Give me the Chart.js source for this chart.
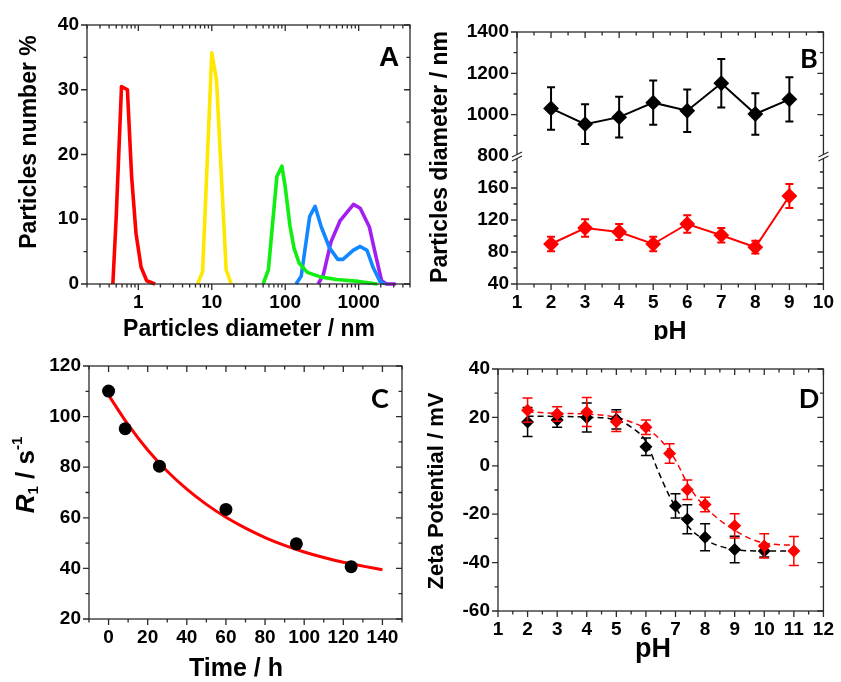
<!DOCTYPE html>
<html>
<head>
<meta charset="utf-8">
<script src="https://cdn.jsdelivr.net/npm/chart.js@4.4.0/dist/chart.umd.min.js"></script>
<style>
  body { margin: 0; background: #fff; }
  #wrap { position: relative; width: 841px; height: 682px; }
  canvas { position: absolute; }
</style>
</head>
<body>
<div id="wrap">
  <canvas id="chartA" width="420" height="340" style="left:0;top:0"></canvas>
  <canvas id="chartB" width="421" height="340" style="left:420px;top:0"></canvas>
  <canvas id="chartC" width="420" height="342" style="left:0;top:340px"></canvas>
  <canvas id="chartD" width="421" height="342" style="left:420px;top:340px"></canvas>
</div>
<script>
// ---- panel A : size distributions (diameter nm, number %)
const redDiam = [0.45, 0.5, 0.59, 0.71, 0.81, 0.93, 1.09, 1.3, 1.69];
const redNum = [0, 10.4, 30.5, 30, 16.6, 7.8, 2.6, 0.5, 0];
const yellowDiam = [6.4, 7.5, 10, 11.6, 15.7, 18.4];
const yellowNum = [0, 1.9, 35.7, 31.5, 2.2, 0];
const greenDiam = [50, 59, 77, 90, 100, 116, 132, 155, 200, 300, 500, 1000, 1800];
const greenNum = [0, 2.2, 16.6, 18.2, 15, 9, 5.5, 3.2, 1.8, 1.1, 0.7, 0.4, 0];
const blueDiam = [140, 165, 215, 255, 310, 400, 520, 610, 840, 1050, 1300, 1580, 1950, 2300];
const blueNum = [0, 1.2, 10.4, 12, 8.8, 5.6, 3.8, 3.8, 5.2, 5.8, 5.2, 2.5, 0.4, 0];
const purpleDiam = [280, 330, 420, 560, 850, 1050, 1400, 1700, 2050, 2400, 3200];
const purpleNum = [0, 1.4, 6.5, 9.8, 12.3, 11.7, 8.8, 4.5, 0.5, 0, 0];

// ---- panel B : diameter vs pH
const bPH = [2, 3, 4, 5, 6, 7, 8, 9];
const bLarge = [1030, 954, 988, 1058, 1019, 1152, 1003, 1074];
const bLargeErr = [103, 96, 99, 107, 103, 117, 100, 107];
const bSmall = [90, 110, 105, 90, 115, 101, 86, 150];
const bSmallErr = [9, 11, 10, 9, 11, 9, 8, 15];

// ---- panel C : R1 vs time
const cTime = [0, 8.5, 26, 60, 96, 124];
const cR1 = [110.1, 95.2, 80.4, 63.3, 49.7, 40.7];
const cFitTime = [0, 10, 20, 30, 40, 50, 60, 70, 80, 90, 100, 110, 120, 130, 140];
const cFitR1 = [108.5, 96.8, 86.8, 78.4, 71.3, 65.3, 60.2, 55.9, 52.2, 49.1, 46.5, 44.3, 42.4, 40.9, 39.5];

// ---- panel D : zeta potential vs pH
const dRedPH = [2, 3, 4, 5, 6, 6.8, 7.4, 8, 9, 10, 11];
const dRedZeta = [23, 21.4, 22.2, 18.2, 15.9, 5.1, -9.9, -16, -24.8, -33.1, -35.2];
const dRedErr = [5, 3, 6, 4, 3, 4, 4, 3, 5, 5, 6];
const dBlackPH = [2, 3, 4, 5, 6, 7, 7.4, 8, 9, 10];
const dBlackZeta = [18.1, 18.9, 20, 19.2, 7.9, -16.6, -22.1, -29.5, -34.6, -35.2];
const dBlackErr = [6, 3, 6, 4, 3.6, 5, 6, 5.6, 5.5, 2.5];
const dRedFitPH = [2, 3, 4, 5, 5.5, 6, 6.5, 7, 7.4, 7.7, 8, 8.5, 9, 9.5, 10, 10.5, 11];
const dRedFitZeta = [22.3, 21.7, 21.4, 20, 18.1, 15.4, 10.6, 2.3, -7.3, -12.8, -17, -22.5, -26.6, -30, -31.9, -32.6, -32.8];
const dBlackFitPH = [2, 3, 4, 5, 5.5, 6, 6.4, 6.75, 7, 7.3, 7.6, 8, 8.4, 9, 10, 11];
const dBlackFitZeta = [20.5, 20.4, 20.1, 19, 16, 10, -1.8, -11.4, -17, -23, -27.3, -30.5, -32.8, -34.6, -35.2, -35.2];

// ---- tick labels
const aXMajor = [1, 10, 100, 1000];
const aYMajor = [0, 10, 20, 30, 40];
const bXMajor = [1, 2, 3, 4, 5, 6, 7, 8, 9, 10];
const bTopMajor = [800, 1000, 1200, 1400];
const bBotMajor = [40, 80, 120, 160];
const cXMajor = [0, 20, 40, 60, 80, 100, 120, 140];
const cYMajor = [20, 40, 60, 80, 100, 120];
const dXMajor = [1, 2, 3, 4, 5, 6, 7, 8, 9, 10, 11, 12];
const dYMajor = [-60, -40, -20, 0, 20, 40];

const FONT = '"Liberation Sans", Arial, sans-serif';
const tickFont = { family: FONT, size: 19, weight: 'bold' };
const titleFont = 'bold 23px ' + FONT;
const INK = '#2a2a2a';

function minors(first, last, step) {
  const out = [];
  for (let v = first; v <= last + 1e-9; v += step) out.push(Math.round(v * 1000) / 1000);
  return out;
}
const aXMinor = [];
[0.1, 1, 10, 100, 1000].forEach(d => {
  for (let k = 2; k <= 9; k++) {
    const v = +(k * d).toPrecision(3);
    if (v >= 0.2 && v <= 5000) aXMinor.push(v);
  }
});

function pts(xs, ys) {
  return xs.map((x, i) => ({ x: x, y: ys[i] }));
}

function axis(type, min, max, majors, size, extra) {
  const horiz = extra && extra.position === 'bottom';
  return Object.assign({
    type: type, min: min, max: max,
    grid: { display: false, drawTicks: false },
    border: { display: false },
    ticks: { font: tickFont, color: '#000', padding: horiz ? 7 : 8, autoSkip: false, maxRotation: 0, callback: v => String(v) },
    afterBuildTicks: s => { s.ticks = majors.map(v => ({ value: v })); },
    afterFit: s => { if (horiz) s.height = size; else s.width = size; }
  }, extra);
}

function drawText(ctx, t) {
  const parts = t.parts || [{ text: t.text, font: t.font }];
  ctx.save();
  ctx.translate(t.x, t.y);
  if (t.rot) ctx.rotate(-Math.PI / 2);
  ctx.fillStyle = '#000';
  ctx.textBaseline = 'middle';
  ctx.textAlign = 'left';
  let w = 0;
  parts.forEach(p => { ctx.font = p.font; p.w = ctx.measureText(p.text).width; w += p.w; });
  let x = -w / 2;
  parts.forEach(p => { ctx.font = p.font; ctx.fillText(p.text, x, p.dy || 0); x += p.w; });
  ctx.restore();
}

// box frame with outward ticks on bottom/left, inward on top/right
function frame(marks, texts, extra) {
  return {
    id: 'frame',
    afterDraw(chart) {
      const { ctx, chartArea: a } = chart;
      ctx.save();
      ctx.strokeStyle = INK;
      ctx.lineWidth = 1.3;
      ctx.strokeRect(a.left, a.top, a.right - a.left, a.bottom - a.top);
      marks.forEach(m => {
        const s = chart.scales[m.id];
        const horiz = s.isHorizontal();
        [[m.major, 6], [m.minor, 3.5]].forEach(([vals, len]) => {
          vals.forEach(v => {
            const p = s.getPixelForValue(v);
            ctx.beginPath();
            if (horiz) {
              ctx.moveTo(p, a.bottom); ctx.lineTo(p, a.bottom + len);
              ctx.moveTo(p, a.top); ctx.lineTo(p, a.top + len);
            } else {
              ctx.moveTo(a.left - len, p); ctx.lineTo(a.left, p);
              ctx.moveTo(a.right, p); ctx.lineTo(a.right - len, p);
            }
            ctx.stroke();
          });
        });
      });
      if (extra) extra(chart);
      texts.forEach(t => drawText(ctx, t));
      ctx.restore();
    }
  };
}

// vertical error bars from dataset.errs
const errorBars = {
  id: 'errorBars',
  afterDatasetDraw(chart, args) {
    const ds = chart.data.datasets[args.index];
    if (!ds.errs) return;
    const meta = args.meta;
    const ctx = chart.ctx;
    ctx.save();
    ctx.strokeStyle = ds.borderColor;
    ctx.lineWidth = ds.errWidth || 1.5;
    const cap = ds.capHalf || 4;
    ds.data.forEach((d, i) => {
      const x = meta.xScale.getPixelForValue(d.x);
      const y1 = meta.yScale.getPixelForValue(d.y + ds.errs[i]);
      const y2 = meta.yScale.getPixelForValue(d.y - ds.errs[i]);
      ctx.beginPath();
      ctx.moveTo(x, y1); ctx.lineTo(x, y2);
      ctx.moveTo(x - cap, y1); ctx.lineTo(x + cap, y1);
      ctx.moveTo(x - cap, y2); ctx.lineTo(x + cap, y2);
      ctx.stroke();
    });
    ctx.restore();
  }
};

const common = {
  responsive: false,
  animation: false,
  events: [],
  plugins: { legend: { display: false }, tooltip: { enabled: false } }
};

function curve(xs, ys, color) {
  return {
    data: pts(xs, ys), showLine: true, borderColor: color, borderWidth: 3.6,
    pointRadius: 0, tension: 0, clip: 4, borderJoinStyle: 'round'
  };
}

// ---------- A
new Chart(document.getElementById('chartA'), {
  type: 'scatter',
  data: {
    datasets: [
      curve(redDiam, redNum, '#ff0000'),
      curve(yellowDiam, yellowNum, '#ffe800'),
      curve(greenDiam, greenNum, '#11ee11'),
      curve(blueDiam, blueNum, '#1188ff'),
      curve(purpleDiam, purpleNum, '#a31ff0')
    ]
  },
  options: Object.assign({}, common, {
    layout: { padding: { top: 25, right: 10, left: 0, bottom: 0 } },
    scales: {
      x: axis('logarithmic', 0.2, 5000, aXMajor, 56, { position: 'bottom' }),
      y: axis('linear', 0, 40, aYMajor, 87, { position: 'left' })
    }
  }),
  plugins: [frame(
    [{ id: 'x', major: aXMajor, minor: aXMinor }, { id: 'y', major: aYMajor, minor: minors(5, 35, 10) }],
    [
      { text: 'Particles number %', font: titleFont, x: 30, y: 142, rot: true },
      { text: 'Particles diameter / nm', font: titleFont, x: 249, y: 330 },
      { text: 'A', font: 'bold 28px ' + FONT, x: 389, y: 58 }
    ]
  )]
});

// ---------- B
function breakMarks(chart) {
  const { ctx, chartArea: a } = chart;
  const y = chart.scales.yTop.bottom;
  [a.left, a.right].forEach(x => {
    ctx.save();
    ctx.strokeStyle = '#fff';
    ctx.lineWidth = 3;
    ctx.beginPath(); ctx.moveTo(x, y - 1); ctx.lineTo(x, y + 2); ctx.stroke();
    ctx.strokeStyle = INK;
    ctx.lineWidth = 1.2;
    ctx.beginPath();
    ctx.moveTo(x - 5, y + 1); ctx.lineTo(x + 5, y - 4);
    ctx.moveTo(x - 5, y + 5); ctx.lineTo(x + 5, y);
    ctx.stroke();
    ctx.restore();
  });
}

new Chart(document.getElementById('chartB'), {
  type: 'scatter',
  data: {
    datasets: [
      { data: pts(bPH, bLarge), errs: bLargeErr, errWidth: 2, capHalf: 4, yAxisID: 'yTop', showLine: true,
        borderColor: '#000', backgroundColor: '#000', borderWidth: 2, pointStyle: 'rectRot', pointRadius: 6.5 },
      { data: pts(bPH, bSmall), errs: bSmallErr, errWidth: 2, capHalf: 4, yAxisID: 'yBot', showLine: true,
        borderColor: '#ff0000', backgroundColor: '#ff0000', borderWidth: 2, pointStyle: 'rectRot', pointRadius: 6.5 }
    ]
  },
  options: Object.assign({}, common, {
    layout: { padding: { top: 32, right: 12, left: 0, bottom: 0 } },
    scales: {
      x: axis('linear', 1, 10, bXMajor, 56, { position: 'bottom' }),
      yBot: axis('linear', 40, 200, bBotMajor, 97, { position: 'left', stack: 'd', stackWeight: 127 }),
      yTop: axis('linear', 800, 1400, bTopMajor, 97, { position: 'left', stack: 'd', stackWeight: 123 })
    }
  }),
  plugins: [errorBars, frame(
    [
      { id: 'x', major: bXMajor, minor: minors(1.5, 9.5, 1) },
      { id: 'yTop', major: bTopMajor.slice(1), minor: minors(900, 1300, 200) },
      { id: 'yBot', major: bBotMajor, minor: minors(60, 180, 40) }
    ],
    [
      { text: 'Particles diameter / nm', font: titleFont, x: 21, y: 157, rot: true },
      { text: 'pH', font: 'bold 25px ' + FONT, x: 250, y: 332 },
      { text: 'B', font: 'bold 27px Lato, ' + FONT, x: 389, y: 59 }
    ],
    breakMarks
  )]
});

// ---------- C
new Chart(document.getElementById('chartC'), {
  type: 'scatter',
  data: {
    datasets: [
      { data: pts(cTime, cR1), backgroundColor: '#000', borderColor: '#000', pointRadius: 6.5, pointBorderWidth: 0 },
      { data: pts(cFitTime, cFitR1), showLine: true, borderColor: '#ff0000', borderWidth: 3, pointRadius: 0,
        cubicInterpolationMode: 'monotone' }
    ]
  },
  options: Object.assign({}, common, {
    layout: { padding: { top: 26, right: 18, left: 0, bottom: 0 } },
    scales: {
      x: axis('linear', -10, 150, cXMajor, 63, { position: 'bottom' }),
      y: axis('linear', 20, 120, cYMajor, 89, { position: 'left' })
    }
  }),
  plugins: [frame(
    [{ id: 'x', major: cXMajor, minor: minors(-10, 150, 20) }, { id: 'y', major: cYMajor, minor: minors(30, 110, 20) }],
    [
      { x: 27, y: 135, rot: true, parts: [
        { text: 'R', font: 'italic bold 26px ' + FONT },
        { text: '1', font: 'bold 15px ' + FONT, dy: 7 },
        { text: ' / s', font: 'bold 26px ' + FONT },
        { text: '-1', font: 'bold 15px ' + FONT, dy: -9 }
      ] },
      { text: 'Time / h', font: 'bold 25px ' + FONT, x: 236, y: 329 },
      { text: 'C', font: 'bold 27px Lato, ' + FONT, x: 380, y: 59 }
    ]
  )]
});

// ---------- D
new Chart(document.getElementById('chartD'), {
  type: 'scatter',
  data: {
    datasets: [
      { data: pts(dRedPH, dRedZeta), errs: dRedErr, errWidth: 1.5, capHalf: 5, borderColor: '#ff0000',
        backgroundColor: '#ff0000', pointStyle: 'rectRot', pointRadius: 6.5, pointBorderWidth: 0 },
      { data: pts(dBlackPH, dBlackZeta), errs: dBlackErr, errWidth: 1.5, capHalf: 5, borderColor: '#000',
        backgroundColor: '#000', pointStyle: 'rectRot', pointRadius: 6.5, pointBorderWidth: 0 },
      { data: pts(dRedFitPH, dRedFitZeta), showLine: true, borderColor: '#ff0000', borderWidth: 1.5,
        borderDash: [6, 4], pointRadius: 0, cubicInterpolationMode: 'monotone' },
      { data: pts(dBlackFitPH, dBlackFitZeta), showLine: true, borderColor: '#000', borderWidth: 1.5,
        borderDash: [6, 4], pointRadius: 0, cubicInterpolationMode: 'monotone' }
    ]
  },
  options: Object.assign({}, common, {
    layout: { padding: { top: 29, right: 14, left: 0, bottom: 0 } },
    scales: {
      x: axis('linear', 1, 12, dXMajor, 71, { position: 'bottom' }),
      y: axis('linear', -60, 40, dYMajor, 78, { position: 'left' })
    }
  }),
  plugins: [errorBars, frame(
    [{ id: 'x', major: dXMajor, minor: minors(1.5, 11.5, 1) }, { id: 'y', major: dYMajor, minor: minors(-50, 30, 20) }],
    [
      { text: 'Zeta Potential / mV', font: 'bold 22px ' + FONT, x: 17, y: 151, rot: true },
      { text: 'pH', font: 'bold 27px ' + FONT, x: 233, y: 310 },
      { text: 'D', font: 'bold 27px Lato, ' + FONT, x: 389, y: 59 }
    ]
  )]
});
</script>
</body>
</html>
